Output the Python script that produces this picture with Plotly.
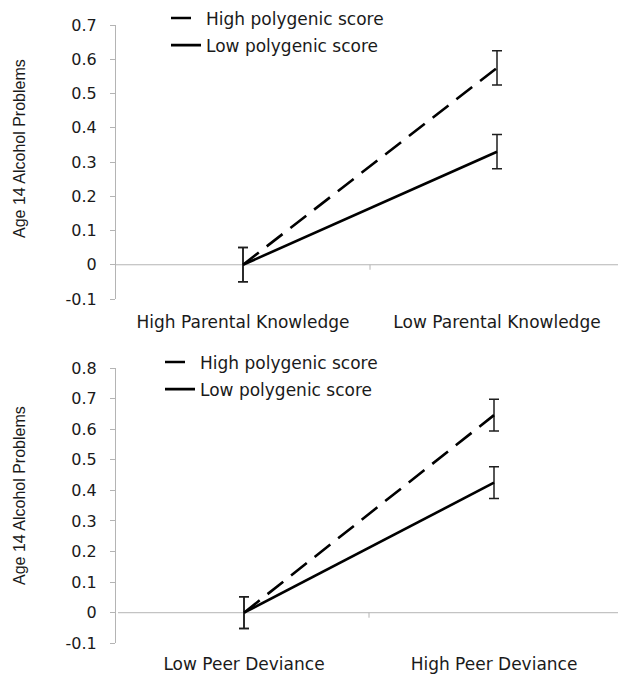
import plotly.graph_objects as go

# Panel A: parental knowledge
knowledge_labels = ["High Parental Knowledge", "Low Parental Knowledge"]
knowledge_high_pgs = [0.0, 0.575]
knowledge_high_err = [0.05, 0.05]
knowledge_low_pgs = [0.0, 0.33]
knowledge_low_err = [0.05, 0.05]

# Panel B: peer deviance
peer_labels = ["Low Peer Deviance", "High Peer Deviance"]
peer_high_pgs = [0.0, 0.646]
peer_high_err = [0.052, 0.052]
peer_low_pgs = [0.0, 0.425]
peer_low_err = [0.052, 0.052]

series_names = ["High polygenic score", "Low polygenic score"]
y_title = "Age 14 Alcohol Problems"
top_ticks = [-0.1, 0, 0.1, 0.2, 0.3, 0.4, 0.5, 0.6, 0.7]
bottom_ticks = [-0.1, 0, 0.1, 0.2, 0.3, 0.4, 0.5, 0.6, 0.7, 0.8]

W, H = 618, 674
FONT = "DejaVu Sans, sans-serif"
TITLE_FONT = "Liberation Sans, Arial, sans-serif"
TXT = "#1a1a1a"
GRID = "#b4b4b4"
DASH = "20px,10px"

fig = go.Figure()


def add_panel(xa, ya, legend, high, high_err, low, low_err):
    pos = [0, 1]
    for name, vals, errs, dash in [
        (series_names[0], high, high_err, DASH),
        (series_names[1], low, low_err, "solid"),
    ]:
        fig.add_trace(go.Scatter(
            x=pos, y=vals, mode="lines", name=name,
            xaxis=xa, yaxis=ya, legend=legend, legendgroup=legend + name,
            line=dict(color="black", width=2.6, dash=dash),
            error_y=dict(type="data", array=errs, visible=True,
                         color="#1e1e1e", thickness=1.5, width=5),
        ))


add_panel("x", "y", "legend", knowledge_high_pgs, knowledge_high_err,
          knowledge_low_pgs, knowledge_low_err)
add_panel("x2", "y2", "legend2", peer_high_pgs, peer_high_err,
          peer_low_pgs, peer_low_err)


def yaxis(domain, rng, ticks):
    return dict(
        domain=domain, range=rng, tickvals=ticks,
        ticktext=[("%g" % t) for t in ticks],
        showgrid=False, zeroline=False, showline=True, linecolor=GRID,
        linewidth=1, ticks="outside", ticklen=5, tickcolor=GRID,
        ticklabelstandoff=10,
        tickfont=dict(family=FONT, size=16, color=TXT),
        automargin=False, fixedrange=True,
    )


def xaxis(domain, rng, labels, anchor, tlen):
    return dict(
        domain=domain, range=rng, tickvals=[0, 1], ticktext=labels,
        showgrid=False, zeroline=False, showline=False,
        ticks="outside", ticklen=tlen, tickcolor="rgba(0,0,0,0)",
        tickfont=dict(family=FONT, size=17, color=TXT),
        anchor=anchor, automargin=False, fixedrange=True,
    )


def legend_box(x_px, y_px):
    return dict(x=x_px / W, y=1 - y_px / H, xanchor="left", yanchor="top",
                bgcolor="rgba(0,0,0,0)", tracegroupgap=2,
                traceorder="grouped",
                font=dict(family=FONT, size=17, color=TXT))


fig.update_layout(
    width=W, height=H, margin=dict(l=0, r=0, t=0, b=0),
    paper_bgcolor="white", plot_bgcolor="white",
    xaxis=xaxis([116 / W, 1], [-0.5, 1 + 121 / 254], knowledge_labels, "y", 8),
    yaxis=yaxis([1 - 299 / H, 1 - 25 / H], [-0.1, 0.7], top_ticks),
    xaxis2=xaxis([118 / W, 1], [-126 / 250, 1 + 124 / 250], peer_labels, "y2", 5),
    yaxis2=yaxis([1 - 643.3 / H, 1 - 368 / H], [-0.1, 0.8], bottom_ticks),
    legend=legend_box(166, 0.5),
    legend2=legend_box(160, 344.5),
    showlegend=True,
)

# Rotated value-axis titles, one per panel
for y_center in (149, 496):
    fig.add_annotation(text=y_title, textangle=-90, showarrow=False,
                       xref="paper", yref="paper", x=19 / W, y=1 - y_center / H,
                       xanchor="center", yanchor="middle",
                       font=dict(family=TITLE_FONT, size=16, color=TXT))

# Horizontal reference line at zero with a small divider tick between the groups
for xr, yr in [("x", "y"), ("x2", "y2")]:
    fig.add_shape(type="line", xref=xr + " domain", yref=yr, x0=0, x1=1,
                  y0=0, y1=0, line=dict(color=GRID, width=1), layer="below")
    fig.add_shape(type="line", xref=xr, yref=yr, x0=0.5, x1=0.5,
                  ysizemode="pixel", yanchor=0, y0=0, y1=-5,
                  line=dict(color=GRID, width=1), layer="below")

fig.write_html("out.html")
